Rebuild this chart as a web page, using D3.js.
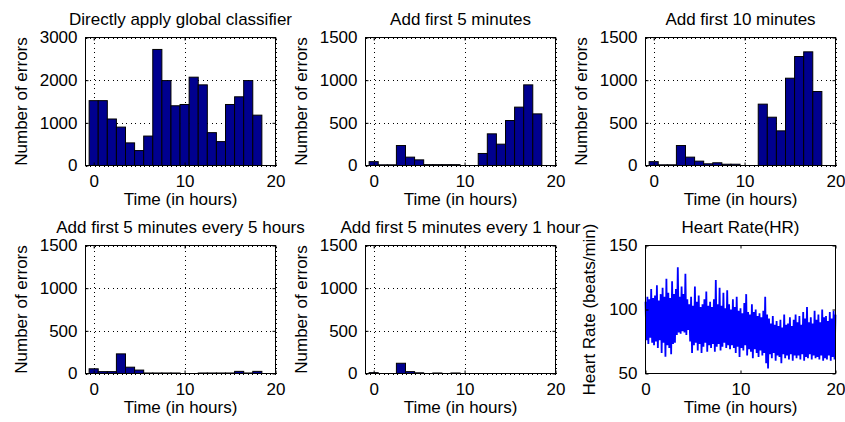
<!DOCTYPE html>
<html>
<head>
<meta charset="utf-8">
<title></title>
<style type="text/css">
  body { margin: 0; background: #fff; }
  svg text { font-family: Arial, "Liberation Sans", Helvetica, sans-serif; font-size: 17px; fill: #000; }
</style>
</head>
<body>
<div class="container"></div>
<script src="https://d3js.org/d3.v7.min.js"></script>
<script type="text/javascript">
var wd = 845
var ht = 422

// hourly bins (bar centres, in hours)
var binHours = [0, 1, 2, 3, 4, 5, 6, 7, 8, 9, 10, 11, 12, 13, 14, 15, 16, 17, 18]

// number of errors per bin, one array per method
var errGlobal = [1520, 1520, 1090, 900, 530, 350, 690, 2720, 1990, 1400, 1430, 2070, 1890, 770, 560, 1430, 1610, 1990, 1180]
var errFirst5 = [45, 8, 8, 234, 98, 66, 10, 10, 10, 10, 0, 0, 141, 371, 250, 527, 684, 945, 605]
var errFirst10 = [45, 8, 8, 234, 98, 51, 20, 32, 15, 15, 0, 0, 719, 566, 406, 1023, 1277, 1332, 867]
var errEvery5h = [55, 22, 22, 230, 74, 40, 6, 6, 6, 6, 0, 0, 6, 6, 6, 6, 25, 6, 25]
var errEvery1h = [10, 0, 0, 120, 22, 8, 0, 6, 0, 6, 0, 0, 0, 0, 0, 0, 0, 0, 0]

var histTitles = ["Directly apply global classifier", "Add first 5 minutes", "Add first 10 minutes",
  "Add first 5 minutes every 5 hours", "Add first 5 minutes every 1 hour"]

var xTicks = [0, 10, 20]
var yTicksBig = [0, 1000, 2000, 3000]
var yTicksSmall = [0, 500, 1000, 1500]
var hrTicks = [50, 100, 150]

// heart rate samples, one every 0.1 hour
var hrStep = 0.1
var hrValues = [
  106, 76, 110, 73, 108, 78, 116, 74, 109, 72,
  111, 75, 119, 70, 107, 76, 112, 66, 117, 74,
  110, 63, 124, 72, 113, 70, 109, 65, 122, 73,
  112, 74, 116, 80, 133, 82, 110, 81, 118, 83,
  112, 82, 128, 80, 108, 84, 104, 75, 110, 66,
  103, 72, 118, 74, 106, 68, 111, 73, 102, 66,
  104, 71, 108, 74, 114, 67, 103, 72, 106, 70,
  102, 73, 108, 67, 123, 71, 104, 73, 117, 68,
  103, 71, 113, 74, 101, 70, 115, 72, 104, 69,
  100, 72, 108, 70, 102, 66, 110, 71, 99, 63,
  101, 70, 97, 68, 105, 72, 112, 64, 98, 69,
  96, 67, 104, 62, 98, 69, 100, 66, 95, 63,
  97, 68, 94, 64, 99, 66, 110, 58, 96, 54,
  93, 65, 89, 62, 95, 66, 88, 60, 91, 64,
  87, 63, 92, 58, 86, 65, 96, 62, 88, 64,
  89, 61, 94, 65, 87, 60, 92, 64, 96, 62,
  90, 64, 95, 61, 88, 65, 98, 60, 93, 63,
  102, 62, 90, 65, 94, 61, 89, 64, 99, 62,
  92, 63, 96, 61, 90, 64, 100, 60, 94, 62,
  95, 61, 91, 64, 98, 60, 93, 63, 99, 61,
  96
]

var colLeft = [85.5, 365.5, 645.5]
var rowTop = [37.5, 245.5]
var pw = 190
var ph = 128
var fmt = d3.format("d")

var svgCont = d3.select(".container").append("svg")
  .attr("width", wd)
  .attr("height", ht)

function panel(col, row) {
  return svgCont.append("g")
    .attr("transform", "translate(" + colLeft[col] + "," + rowTop[row] + ")")
}

function labels(g, title, ylab, yOff) {
  g.append("text").attr("x", pw / 2).attr("y", -12.5)
    .style("text-anchor", "middle").text(title)
  g.append("text").attr("x", pw / 2).attr("y", ph + 39.5)
    .style("text-anchor", "middle").text("Time (in hours)")
  g.append("text")
    .attr("transform", "translate(" + (-yOff) + "," + (ph / 2) + ") rotate(-90)")
    .style("text-anchor", "middle").text(ylab)
}

function axes(g, x, y, yt) {
  var bx = g.append("g").attr("transform", "translate(0," + ph + ")")
    .call(d3.axisBottom(x).tickValues(xTicks).tickFormat(fmt).tickSize(-3).tickPadding(9))
  var lx = g.append("g")
    .call(d3.axisLeft(y).tickValues(yt).tickFormat(fmt).tickSize(-3).tickPadding(8))
  var tx = g.append("g")
    .call(d3.axisTop(x).tickValues(xTicks).tickSize(-3).tickFormat(""))
  var rx = g.append("g").attr("transform", "translate(" + pw + ",0)")
    .call(d3.axisRight(y).tickValues(yt).tickSize(-3).tickFormat(""))
  ;[bx, lx, tx, rx].forEach(function(a) { a.select(".domain").remove() })

  g.append("rect")
    .attr("width", pw).attr("height", ph)
    .attr("fill", "none").attr("stroke", "#000").attr("stroke-width", 1)
}

function drawHist(idx, col, row, values, yMax, yt) {
  var g = panel(col, row)
  var x = d3.scaleLinear().domain([-0.9, 20]).range([0, pw])
  var y = d3.scaleLinear().domain([0, yMax]).range([ph, 0])

  // dotted grid, under the bars
  var gx = g.append("g").attr("transform", "translate(0," + ph + ")")
    .call(d3.axisBottom(x).tickValues(xTicks).tickSize(-ph).tickFormat(""))
  var gy = g.append("g")
    .call(d3.axisLeft(y).tickValues(yt).tickSize(-pw).tickFormat(""))
  ;[gx, gy].forEach(function(a) {
    a.select(".domain").remove()
    a.selectAll("line").attr("stroke", "#000").attr("stroke-dasharray", "1,3.5")
      .style("shape-rendering", "crispEdges")
  })

  g.selectAll("rect.bar").data(values).enter().append("rect")
    .attr("class", "bar")
    .attr("x", function(d, i) { return x(binHours[i] - 0.5) })
    .attr("width", function(d, i) { return x(binHours[i] + 0.5) - x(binHours[i] - 0.5) })
    .attr("y", function(d) { return y(d) })
    .attr("height", function(d) { return ph - y(d) })
    .attr("fill", "#00008f")
    .attr("stroke", "#000")
    .attr("stroke-width", 1)

  axes(g, x, y, yt)
  labels(g, histTitles[idx], "Number of errors", 59)
}

drawHist(0, 0, 0, errGlobal, 3000, yTicksBig)
drawHist(1, 1, 0, errFirst5, 1500, yTicksSmall)
drawHist(2, 2, 0, errFirst10, 1500, yTicksSmall)
drawHist(3, 0, 1, errEvery5h, 1500, yTicksSmall)
drawHist(4, 1, 1, errEvery1h, 1500, yTicksSmall)

// heart rate trace
var hg = panel(2, 1)
var hx = d3.scaleLinear().domain([0, 20]).range([0, pw])
var hy = d3.scaleLinear().domain([50, 150]).range([ph, 0])

var hrLine = d3.line()
  .x(function(d, i) { return hx(i * hrStep) })
  .y(function(d) { return hy(d) })

hg.append("path")
  .attr("d", hrLine(hrValues))
  .attr("fill", "none")
  .attr("stroke", "#0000ff")
  .attr("stroke-width", 1.8)
  .attr("stroke-linejoin", "miter")

axes(hg, hx, hy, hrTicks)
labels(hg, "Heart Rate(HR)", "Heart Rate (beats/min)", 50.5)
</script>
</body>
</html>
